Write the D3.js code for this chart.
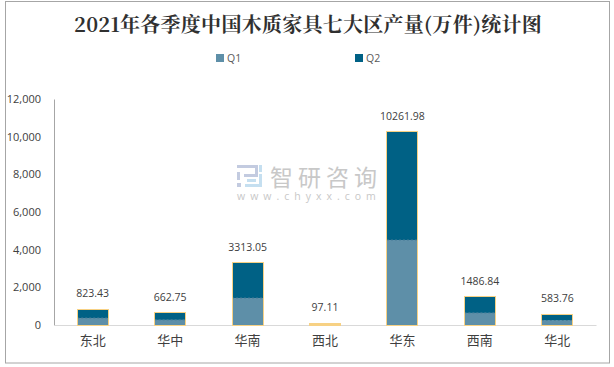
<!DOCTYPE html>
<html>
<head>
<meta charset="utf-8">
<script src="https://cdn.jsdelivr.net/npm/d3@7/dist/d3.min.js"></script>
<style>
body { margin: 0; background: #fff; }
text { font-family: "Open Sans", "Noto Sans CJK SC", sans-serif; }
</style>
</head>
<body>
<div id="chart"></div>
<script>
var categories = ["东北", "华中", "华南", "西北", "华东", "西南", "华北"];
var totals = [823.43, 662.75, 3313.05, 97.11, 10261.98, 1486.84, 583.76];
var q1 = [370, 270, 1430, 45, 4510, 640, 240];
var q2 = [453.43, 392.75, 1883.05, 52.11, 5751.98, 846.84, 343.76];
var yTicks = [0, 2000, 4000, 6000, 8000, 10000, 12000];
var seriesNames = ["Q1", "Q2"];
var seriesColors = ["#5e8fa8", "#006185"];
var outlineColor = "#f7d184";

var width = 614, height = 367;
var margin = {top: 99, right: 18, bottom: 42, left: 54};
var innerW = width - margin.left - margin.right;
var innerH = height - margin.top - margin.bottom;

var svg = d3.select("#chart").append("svg")
    .attr("width", width)
    .attr("height", height)
    .style("display", "block");

// outer frame
svg.append("rect")
    .attr("x", 5.5).attr("y", 1.5)
    .attr("width", 604).attr("height", 361.5)
    .attr("fill", "#fff")
    .attr("stroke", "#a6a6a6");

svg.append("text")
    .attr("x", 308).attr("y", 32)
    .attr("text-anchor", "middle")
    .style("font-family", '"Noto Serif CJK SC", "Noto Sans CJK SC", serif')
    .style("font-size", "20px")
    .style("font-weight", "700")
    .style("letter-spacing", "0.27px")
    .attr("fill", "#303030")
    .text("2021年各季度中国木质家具七大区产量(万件)统计图");

var g = svg.append("g")
    .attr("transform", "translate(" + margin.left + "," + margin.top + ")");

var x = d3.scaleBand().domain(categories).range([0, innerW]).paddingInner(0.6).paddingOuter(0.3);
var y = d3.scaleLinear().domain([0, 12000]).range([innerH, 0]);

// watermark sits under the bars
var wm = svg.append("g").attr("class", "watermark");
wm.append("text")
    .attr("x", 270).attr("y", 186)
    .style("font-family", '"Noto Sans CJK SC", sans-serif')
    .style("font-size", "23px")
    .style("letter-spacing", "5px")
    .attr("fill", "#c8c8c8")
    .text("智研咨询");
wm.append("text")
    .attr("x", 237).attr("y", 200)
    .style("font-size", "10.5px")
    .style("letter-spacing", "5px")
    .attr("fill", "#c8c8c8")
    .text("www.chyxx.com");
wm.append("path")
    .attr("d", "M237 165h21v12h-14v-3h11v-6h-18z M237 172h3v8h-3z M237 183h4v4h-4z")
    .attr("fill", "#c3cbe0");
wm.append("path")
    .attr("d", "M259 165h3v7h-3z M259 174h3v13h-17v-3h14z M247 179h9v3h-9z")
    .attr("fill", "#c5dff0");

var yAxis = d3.axisLeft(y)
    .tickValues(yTicks)
    .tickFormat(d3.format(","))
    .tickSize(0)
    .tickPadding(13);

var yG = g.append("g").attr("class", "y-axis").call(yAxis);
yG.select(".domain").attr("stroke", "#a6a6a6");
yG.selectAll("text").style("font-size", "11px").attr("fill", "#404040");

var xAxis = d3.axisBottom(x).tickSize(0).tickPadding(11);
var xG = g.append("g")
    .attr("class", "x-axis")
    .attr("transform", "translate(0," + innerH + ")")
    .call(xAxis);
xG.select(".domain").attr("stroke", "#d9d9d9");
xG.selectAll("text")
    .style("font-family", '"Noto Sans CJK SC", sans-serif')
    .style("font-size", "13px")
    .attr("fill", "#404040");

// stacked bars
var stackData = categories.map(function(c, i) { return {cat: c, Q1: q1[i], Q2: q2[i], total: totals[i]}; });
var stacked = d3.stack().keys(seriesNames)(stackData);

g.selectAll("g.layer")
    .data(stacked)
    .enter().append("g")
    .attr("class", "layer")
    .attr("fill", function(d, i) { return seriesColors[i]; })
    .selectAll("rect")
    .data(function(d) { return d; })
    .enter().append("rect")
    .attr("x", function(d) { return x(d.data.cat); })
    .attr("y", function(d) { return y(d[1]); })
    .attr("width", x.bandwidth())
    .attr("height", function(d) { return y(d[0]) - y(d[1]); });

// faint dashed seam where Q1 meets Q2
g.selectAll("line.seam")
    .data(stackData)
    .enter().append("line")
    .attr("class", "seam")
    .attr("x1", function(d) { return x(d.cat); })
    .attr("x2", function(d) { return x(d.cat) + x.bandwidth(); })
    .attr("y1", function(d) { return y(d.Q1); })
    .attr("y2", function(d) { return y(d.Q1); })
    .attr("stroke", "#4a7d98")
    .attr("stroke-dasharray", "2,2");

// yellow outline around each whole stack, very short bars end up all yellow
g.selectAll("rect.outline")
    .data(stackData)
    .enter().append("rect")
    .attr("class", "outline")
    .attr("x", function(d) { return x(d.cat); })
    .attr("y", function(d) { return y(d.total); })
    .attr("width", x.bandwidth())
    .attr("height", function(d) { return y(0) - y(d.total); })
    .attr("fill", function(d) { return y(0) - y(d.total) < 3 ? outlineColor : "none"; })
    .attr("stroke", outlineColor)
    .attr("stroke-width", 1)
    .style("shape-rendering", "crispEdges");

g.selectAll("text.total")
    .data(stackData)
    .enter().append("text")
    .attr("class", "total")
    .attr("x", function(d) { return x(d.cat) + x.bandwidth() / 2; })
    .attr("y", function(d) { return y(d.total) - 12; })
    .attr("text-anchor", "middle")
    .style("font-size", "10.5px")
    .attr("fill", "#404040")
    .text(function(d) { return d.total; });

// legend
var legendX = d3.scaleOrdinal().domain(seriesNames).range([216, 355]);
var legend = svg.selectAll("g.legend")
    .data(seriesNames)
    .enter().append("g")
    .attr("class", "legend")
    .attr("transform", function(d) { return "translate(" + legendX(d) + ",54)"; });
legend.append("rect")
    .attr("width", 8).attr("height", 8)
    .attr("fill", function(d, i) { return seriesColors[i]; });
legend.append("text")
    .attr("x", 11).attr("y", 8)
    .style("font-size", "10.5px")
    .attr("fill", "#595959")
    .text(function(d) { return d; });
</script>
</body>
</html>
